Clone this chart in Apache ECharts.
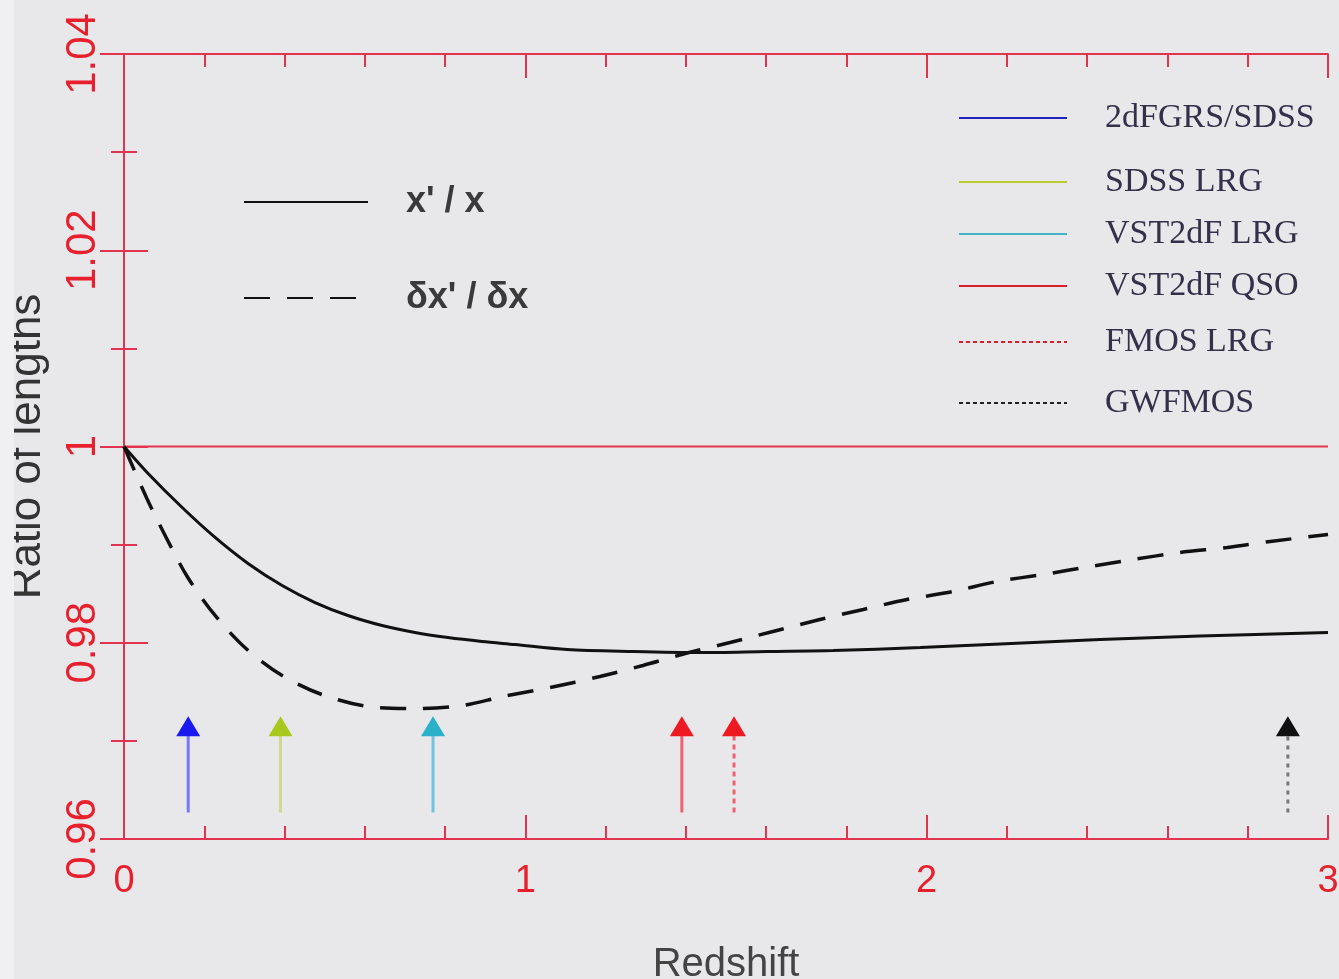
<!DOCTYPE html>
<html>
<head>
<meta charset="utf-8">
<script src="https://cdn.jsdelivr.net/npm/echarts@6/dist/echarts.min.js"></script>
<style>
  html, body { margin: 0; padding: 0; background: #e8e8ea; }
  #main { width: 1339px; height: 979px; }
</style>
</head>
<body>
<div id="main"></div>
<script>
// redshift samples and length ratios
const zSolid = [0, 0.06, 0.145, 0.227, 0.309, 0.394, 0.476, 0.558, 0.643, 0.725, 0.807, 0.892, 0.974,
  1.104, 1.268, 1.435, 1.602, 1.767, 1.984, 2.183, 2.432, 2.681, 3.0];
const ratioSolid = [1.0, 0.99725, 0.99378, 0.99073, 0.98808, 0.98583, 0.98410, 0.98278, 0.98176, 0.98104, 0.98053, 0.98013, 0.97982,
  0.97931, 0.97911, 0.97900, 0.97911, 0.97921, 0.97951, 0.97987, 0.98033, 0.98069, 0.98104];

const zDashed = [0, 0.057, 0.105, 0.159, 0.227, 0.304, 0.394, 0.493, 0.608, 0.725, 0.842, 0.944,
  1.062, 1.186, 1.293, 1.403, 1.510, 1.617, 1.734, 1.842, 1.951, 2.066, 2.175, 2.290, 2.407, 2.514, 2.631, 2.749, 2.856, 3.0];
const ratioDashed = [1.0, 0.99470, 0.99073, 0.98665, 0.98278, 0.97941, 0.97666, 0.97472, 0.97350, 0.97330, 0.97360, 0.97452,
  0.97544, 0.97656, 0.97768, 0.97895, 0.98002, 0.98115, 0.98237, 0.98339, 0.98441, 0.98522, 0.98624, 0.98695, 0.98777, 0.98848, 0.98920, 0.98971, 0.99032, 0.99103];

// survey markers (arrows)
const surveyNames = ['2dFGRS/SDSS', 'SDSS LRG', 'VST2dF LRG', 'VST2dF QSO', 'FMOS LRG', 'GWFMOS'];
const surveyZ = [0.16, 0.39, 0.77, 1.39, 1.52, 2.90];
const arrowTail = 0.9627;
const arrowHead = 0.9715;

const xTicks = [0, 1, 2, 3];
const yTicks = [0.96, 0.98, 1, 1.02, 1.04];

const red = '#e3344f';
const headColors = ['#1a1aee', '#a8c81c', '#2ab0c8', '#ee1a22', '#ee1a22', '#111111'];
const legendColors = ['#2222c0', '#b8cc30', '#40b4c4', '#d8202c', '#d8202c', '#222222'];
const shaftColors = ['#7878ff', '#d2d890', '#70c4dc', '#f06070', '#f06070', '#777777'];
const shaftTypes = ['solid', 'solid', 'solid', 'solid', [5, 4], [4, 5]];
const legendTypes = ['solid', 'solid', 'solid', 'solid', [4, 3], [4, 3]];
const legendRowY = [118, 182, 234, 286, 342, 403];
const curveLabels = { "x'/x": "x' / x", "δx'/δx": "δx' / δx" };

const chart = echarts.init(document.getElementById('main'));

const arrowSeries = surveyNames.map((name, i) => ({
  name: name,
  type: 'line',
  symbol: 'none',
  showSymbol: true,
  z: 5,
  itemStyle: { color: headColors[i] },
  lineStyle: { color: shaftColors[i], width: 3, type: shaftTypes[i] },
  data: [
    { value: [surveyZ[i], arrowTail], symbol: 'none' },
    { value: [surveyZ[i], arrowHead], symbol: 'triangle', symbolSize: [24, 20], itemStyle: { color: headColors[i] } }
  ]
}));

const noSymbol = { color: 'rgba(0,0,0,0)', borderWidth: 0 };

const surveyLegends = surveyNames.map((name, i) => ({
  data: [name],
  left: 958,
  top: legendRowY[i] - 17,
  padding: 0,
  itemWidth: 108,
  itemHeight: 14,
  selectedMode: false,
  itemStyle: noSymbol,
  lineStyle: { color: legendColors[i], width: 2, type: legendTypes[i], opacity: 1 },
  textStyle: { fontFamily: 'Liberation Serif', fontSize: 34, color: '#35304a', padding: [0, 0, 0, 33] }
}));

const curveLegend = (name, y) => ({
  data: [name],
  left: 243,
  top: y - 18,
  padding: 0,
  itemWidth: 124,
  itemHeight: 14,
  selectedMode: false,
  itemStyle: noSymbol,
  formatter: n => curveLabels[n],
  textStyle: { fontFamily: 'Liberation Sans', fontSize: 36, fontWeight: 'bold', color: '#3a3a3a', padding: [0, 0, 30, 33] }
});

const option = {
  backgroundColor: '#e8e8ea',
  animation: false,
  grid: { left: 124, right: 11, top: 54, bottom: 140, containLabel: false, outerBoundsMode: 'none' },
  legend: [curveLegend("x'/x", 202), curveLegend("δx'/δx", 298)].concat(surveyLegends),
  xAxis: [
    {
      type: 'value', min: xTicks[0], max: xTicks[xTicks.length - 1], interval: 1,
      name: 'Redshift', nameLocation: 'middle', nameGap: 106,
      nameTextStyle: { fontFamily: 'Liberation Sans', fontSize: 40, color: '#444' },
      axisLine: { lineStyle: { color: red, width: 2 } },
      axisTick: { inside: true, length: 24, lineStyle: { color: red, width: 2 } },
      minorTick: { show: true, splitNumber: 5, length: 13, lineStyle: { color: red, width: 2 } },
      splitLine: { show: false },
      axisLabel: { margin: 24, fontFamily: 'Liberation Sans', fontSize: 38, color: '#e8202e' }
    },
    {
      type: 'value', position: 'top', min: 0, max: 3, interval: 1,
      axisLine: { lineStyle: { color: red, width: 2 } },
      axisTick: { inside: true, length: 24, lineStyle: { color: red, width: 2 } },
      minorTick: { show: true, splitNumber: 5, length: 13, lineStyle: { color: red, width: 2 } },
      splitLine: { show: false },
      axisLabel: { show: false }
    }
  ],
  yAxis: [
    {
      type: 'value', min: yTicks[0], max: yTicks[yTicks.length - 1], interval: 0.02,
      name: 'Ratio of lengths', nameLocation: 'middle', nameGap: 74,
      nameTextStyle: { fontFamily: 'Liberation Sans', fontSize: 44, color: '#333' },
      axisLine: { show: true, lineStyle: { color: red, width: 2 } },
      axisTick: { show: true, inside: true, length: 24, lineStyle: { color: red, width: 2 } },
      minorTick: { show: true, splitNumber: 2, length: 13, lineStyle: { color: red, width: 2 } },
      splitLine: { show: false },
      axisLabel: {
        rotate: 90, margin: 20, fontFamily: 'Liberation Sans', fontSize: 42, color: '#e8202e',
        formatter: v => String(+v.toFixed(2))
      }
    },
    {
      type: 'value', position: 'right', min: 0.96, max: 1.04, interval: 0.02,
      axisLine: { show: true, lineStyle: { color: red, width: 2 } },
      axisTick: { show: true, inside: true, length: 24, lineStyle: { color: red, width: 2 } },
      minorTick: { show: true, splitNumber: 2, length: 13, lineStyle: { color: red, width: 2 } },
      splitLine: { show: false },
      axisLabel: { show: false }
    }
  ],
  graphic: [
    { type: 'rect', left: 0, top: 0, z: 100, shape: { width: 14, height: 979 }, style: { fill: '#f0f0f2' } }
  ],
  series: [
    {
      name: 'unity', type: 'line', symbol: 'none', z: 1,
      lineStyle: { color: red, width: 2 },
      data: [[0, 1], [3, 1]]
    },
    {
      name: "x'/x", type: 'line', symbol: 'none', smooth: 0.3, z: 3,
      itemStyle: { color: '#111' },
      lineStyle: { color: '#111', width: 3 },
      data: zSolid.map((z, i) => [z, ratioSolid[i]])
    },
    {
      name: "δx'/δx", type: 'line', symbol: 'none', smooth: 0.3, z: 3,
      itemStyle: { color: '#111' },
      lineStyle: { color: '#111', width: 3.5, type: [26, 17] },
      data: zDashed.map((z, i) => [z, ratioDashed[i]])
    }
  ].concat(arrowSeries)
};

chart.setOption(option);
</script>
</body>
</html>
